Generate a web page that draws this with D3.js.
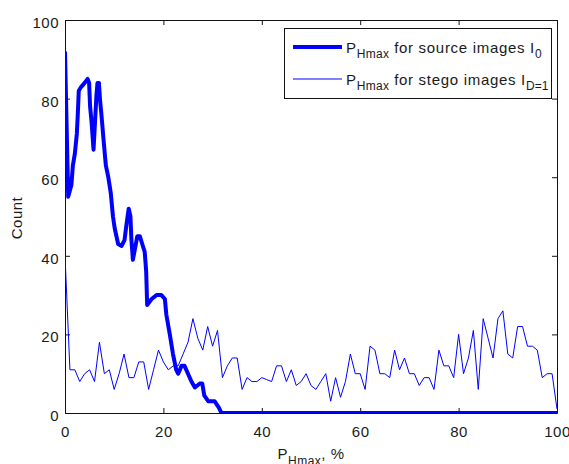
<!DOCTYPE html>
<html>
<head>
<meta charset="utf-8">
<script src="https://cdn.jsdelivr.net/npm/d3@7"></script>
<style>
  body { margin: 0; background: #fff; }
  text { font-family: "Liberation Sans", Arial, sans-serif; fill: #1a1a1a; }
</style>
</head>
<body>
<div id="chart"></div>
<script>

// P_Hmax for source images (thick curve)
var sourceX = [0, 0.65, 1.3, 1.6, 2.0, 2.4, 2.6, 2.8, 3.3, 4.0, 4.6, 4.9, 5.1, 5.4, 5.8,
               6.1, 6.4, 6.6, 6.9, 7.1, 7.4, 7.8, 8.3, 8.8, 9.3, 9.75, 10.1, 10.8, 11.5,
               12.1, 12.5, 12.95, 13.3, 13.5, 13.8, 14.4, 14.7, 15.2, 15.7, 16.2, 16.5,
               16.7, 17.6, 18.6, 19.6, 20.3, 20.6, 21.3, 21.95, 22.6, 23.0, 23.7, 24.3,
               25.0, 25.7, 26.4, 27.4, 27.9, 28.3, 29.1, 30.4, 31.3, 31.8, 100];
var sourceCounts = [92, 55, 58, 63, 66, 71, 76, 82, 83, 84, 85, 84, 78, 74, 67,
                    74, 81, 84, 84, 80, 76, 70, 63, 60, 56, 50, 47, 43, 42.5,
                    44, 48, 52, 50, 44, 39, 43, 45, 45, 43, 41, 36,
                    27.5, 29, 30, 30, 29, 25, 20, 15, 11, 10, 12, 12,
                    10, 8, 6.5, 7.5, 7.5, 4.5, 3, 3, 1.3, 0, 0];

// P_Hmax for stego images (thin curve), one count per percent 0..100
var stegoCounts = [40, 11, 11, 8, 10, 11, 8, 18, 10, 11,
                   6, 10, 15, 9, 9, 13, 13, 6, 11, 16,
                   13, 11, 12, 12, 15, 18, 24, 19, 16, 22,
                   17, 21, 9, 12, 14, 14, 6, 9, 8, 8,
                   9, 8.5, 8, 12, 12, 8, 11, 7, 8, 10,
                   7, 6, 8, 10, 3, 9, 4, 8, 15, 10,
                   10, 6, 17, 16, 10, 10, 9, 16, 11, 14,
                   10, 10, 7, 9, 9, 6, 16, 12, 12, 9,
                   20, 10, 14, 21, 6, 24, 19, 14, 24, 26,
                   15, 14, 22, 22, 17, 17, 16, 9, 10, 10,
                   1];

var xTicks = [0, 20, 40, 60, 80, 100];
var yTicks = [0, 20, 40, 60, 80, 100];

var W = 569, H = 464;
var plot = { left: 65, right: 557, top: 20, bottom: 413 };
var fontSize = 15, subSize = 12;

var svg = d3.select("#chart").append("svg")
  .attr("width", W)
  .attr("height", H);

var x = d3.scaleLinear().domain([0, 100]).range([plot.left, plot.right]);
var y = d3.scaleLinear().domain([0, 100]).range([plot.bottom, plot.top]);

// axes box with inward ticks
function styleAxis(g) {
  g.selectAll("path.domain").attr("stroke", "#111");
  g.selectAll(".tick line").attr("stroke", "#111");
  g.selectAll("text")
    .style("font-size", fontSize + "px")
    .style("letter-spacing", "0.5px")
    .attr("fill", "#1a1a1a");
}

svg.append("g")
  .attr("transform", "translate(0," + plot.bottom + ")")
  .call(d3.axisBottom(x).tickValues(xTicks).tickSizeInner(-5).tickSizeOuter(0).tickPadding(13))
  .call(styleAxis);

svg.append("g")
  .attr("transform", "translate(0," + plot.top + ")")
  .call(d3.axisTop(x).tickValues(xTicks).tickSizeInner(-5).tickSizeOuter(0).tickFormat(""))
  .call(styleAxis);

svg.append("g")
  .attr("transform", "translate(" + plot.left + ",0)")
  .call(d3.axisLeft(y).tickValues(yTicks).tickSizeInner(-5).tickSizeOuter(0).tickPadding(6))
  .call(styleAxis)
  .selectAll("text").attr("dy", "0.5em");

svg.append("g")
  .attr("transform", "translate(" + plot.right + ",0)")
  .call(d3.axisRight(y).tickValues(yTicks).tickSizeInner(-5).tickSizeOuter(0).tickFormat(""))
  .call(styleAxis);

// lines, clipped to the axes box
svg.append("clipPath").attr("id", "clip")
  .append("rect")
  .attr("x", plot.left).attr("y", plot.top)
  .attr("width", plot.right - plot.left + 1)
  .attr("height", plot.bottom - plot.top);

var lines = svg.append("g").attr("clip-path", "url(#clip)");

var sourceData = sourceX.map(function (d, i) { return [d, sourceCounts[i]]; });
var stegoData = stegoCounts.map(function (d, i) { return [i, d]; });

var line = d3.line()
  .x(function (d) { return x(d[0]); })
  .y(function (d) { return y(d[1]); });

lines.append("path")
  .datum(sourceData)
  .attr("d", line)
  .attr("fill", "none")
  .attr("stroke", "#0000ff")
  .attr("stroke-width", 4)
  .attr("stroke-linejoin", "round");

lines.append("path")
  .datum(stegoData)
  .attr("d", line)
  .attr("fill", "none")
  .attr("stroke", "#0000ff")
  .attr("stroke-width", 1);

// axis labels
var xl = svg.append("text")
  .attr("x", (plot.left + plot.right) / 2)
  .attr("y", 459)
  .attr("text-anchor", "middle")
  .style("font-size", fontSize + "px")
  .style("letter-spacing", "0.5px");
xl.append("tspan").text("P");
xl.append("tspan").attr("dy", 6).style("font-size", subSize + "px").text("Hmax");
xl.append("tspan").attr("dy", -6).text(", %");

svg.append("text")
  .attr("transform", "translate(22," + 218 + ") rotate(-90)")
  .attr("text-anchor", "middle")
  .style("font-size", fontSize + "px")
  .style("letter-spacing", "0.5px")
  .text("Count");

// legend
var legend = svg.append("g");
legend.append("rect")
  .attr("x", 284.5).attr("y", 28.5)
  .attr("width", 267).attr("height", 70)
  .attr("fill", "#fff")
  .attr("stroke", "#111");

var legendItems = [
  { width: 4, rest: " for source images I", sub: "0" },
  { width: 1, rest: " for stego images I", sub: "D=1" }
];
var rowY = [47, 79];

legendItems.forEach(function (item, i) {
  legend.append("line")
    .attr("x1", 293).attr("x2", 342)
    .attr("y1", rowY[i]).attr("y2", rowY[i])
    .attr("stroke", "#0000ff")
    .attr("stroke-width", item.width);
  var t = legend.append("text")
    .attr("x", 346)
    .attr("y", rowY[i] + 5.5)
    .style("font-size", fontSize + "px")
    .style("letter-spacing", "0.7px");
  t.append("tspan").text("P");
  t.append("tspan").attr("dy", 5).style("font-size", subSize + "px")
    .style("letter-spacing", "0.3px").text("Hmax");
  t.append("tspan").attr("dy", -5).text(item.rest);
  t.append("tspan").attr("dy", 5).style("font-size", subSize + "px")
    .style("letter-spacing", "0px").text(item.sub);
});

</script>
</body>
</html>
